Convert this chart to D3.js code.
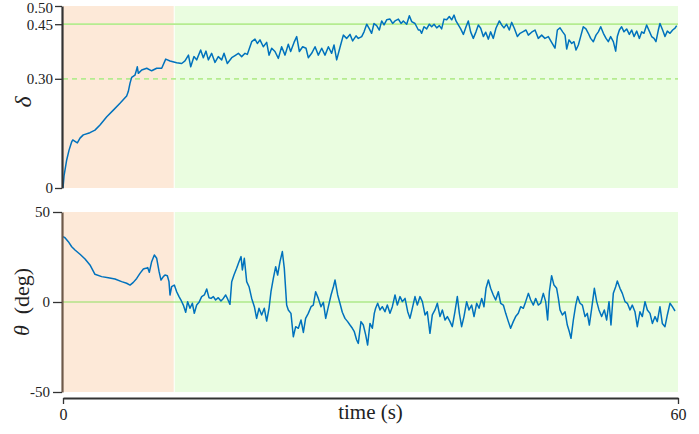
<!DOCTYPE html>
<html>
<head>
<meta charset="utf-8">
<script src="https://cdn.jsdelivr.net/npm/d3@7"></script>
<style>
  html, body { margin: 0; padding: 0; background: #fff; }
  svg { display: block; }
  svg text { font-family: 'Liberation Serif', 'Times New Roman', Times, serif !important; }
</style>
</head>
<body>
<svg id="chart" width="699" height="434"></svg>
<script>
// time axis (s)
const timeDomain = [0, 60];
const timeTicks = [0, 60];
const phaseSplit = 10.85; // end of the first (orange) phase

// top panel: delta
const deltaTicks = [0, 0.3, 0.45, 0.5];
const deltaTarget = 0.45;
const deltaThreshold = 0.3;
const deltaTime = [
  0, 0.1, 0.36, 0.59, 0.85, 0.95, 1.17, 1.4, 1.66, 1.98, 2.63, 3.12, 3.61, 4.27, 4.91,
  5.56, 6.21, 6.37, 6.54, 6.7, 7.02, 7.17, 7.25, 7.35, 7.68, 8.17, 8.65, 9.14, 9.63, 10.02,
  10.44, 11.09, 11.58, 11.9, 12.24, 12.46, 12.78, 13.04, 13.43, 13.69, 13.95, 14.18, 14.5,
  14.83, 15.15, 15.48, 15.71, 16.03, 16.46, 16.78, 17.11, 17.43, 17.76, 17.98, 18.41, 18.73,
  18.96, 19.22, 19.54, 19.87, 20.1, 20.36, 20.68, 21.01, 21.33, 21.66, 21.98, 22.21, 22.54,
  22.8, 23.06, 23.38, 23.71, 23.93, 24.26, 24.59, 24.91, 25.24, 25.56, 25.89, 26.21, 26.44,
  26.7, 27.02, 27.35, 27.67, 28.0, 28.26, 28.59, 28.81, 29.14, 29.37, 29.63, 29.89, 30.11,
  30.34, 30.6, 30.86, 31.09, 31.32, 31.58, 31.9, 32.16, 32.39, 32.72, 32.98, 33.2, 33.53,
  33.79, 34.02, 34.34, 34.67, 34.83, 34.99, 35.22, 35.48, 35.74, 35.97, 36.2, 36.46, 36.72,
  36.94, 37.17, 37.43, 37.69, 37.92, 38.15, 38.34, 38.57, 38.8, 39.06, 39.32, 39.54, 39.77,
  40.03, 40.29, 40.52, 40.75, 41.01, 41.24, 41.5, 41.72, 41.98, 42.24, 42.57, 42.8, 43.02,
  43.28, 43.54, 43.77, 44.03, 44.33, 44.59, 44.85, 45.17, 45.4, 45.72, 46.05, 46.37, 46.7,
  47.02, 47.35, 47.67, 48.0, 48.23, 48.49, 48.75, 48.98, 49.14, 49.37, 49.63, 49.85, 50.05,
  50.28, 50.5, 50.76, 51.02, 51.25, 51.48, 51.74, 52.0, 52.23, 52.46, 52.72, 52.98, 53.2,
  53.43, 53.69, 53.92, 54.08, 54.28, 54.5, 54.73, 54.99, 55.25, 55.48, 55.71, 55.97, 56.23,
  56.46, 56.68, 56.94, 57.2, 57.43, 57.66, 57.85, 58.08, 58.24, 58.5, 58.73, 58.96, 59.22,
  59.48, 59.71, 59.87
];
const deltaValues = [
  0, 0.033, 0.077, 0.104, 0.127, 0.132, 0.128, 0.124, 0.137, 0.146, 0.152, 0.159, 0.173, 0.196, 0.214,
  0.233, 0.253, 0.265, 0.288, 0.304, 0.31, 0.324, 0.333, 0.315, 0.324, 0.329, 0.322, 0.329, 0.329, 0.354,
  0.349, 0.344, 0.342, 0.349, 0.365, 0.333, 0.361, 0.352, 0.379, 0.358, 0.376, 0.352, 0.37,
  0.345, 0.361, 0.352, 0.37, 0.342, 0.358, 0.364, 0.37, 0.361, 0.37, 0.367, 0.402, 0.409,
  0.397, 0.407, 0.388, 0.4, 0.365, 0.384, 0.375, 0.356, 0.388, 0.365, 0.395, 0.375, 0.4,
  0.416, 0.375, 0.388, 0.384, 0.358, 0.37, 0.388, 0.365, 0.384, 0.365, 0.388, 0.37, 0.393,
  0.352, 0.386, 0.42, 0.411, 0.422, 0.404, 0.418, 0.411, 0.416, 0.429, 0.45, 0.437, 0.425,
  0.452, 0.446, 0.434, 0.459, 0.448, 0.462, 0.464, 0.452, 0.459, 0.464, 0.452, 0.459, 0.45,
  0.473, 0.457, 0.452, 0.434, 0.434, 0.425, 0.443, 0.437, 0.45, 0.443, 0.45, 0.44, 0.446,
  0.437, 0.464, 0.462, 0.471, 0.462, 0.475, 0.459, 0.448, 0.437, 0.422, 0.443, 0.459, 0.429,
  0.411, 0.429, 0.448, 0.439, 0.416, 0.428, 0.409, 0.429, 0.411, 0.439, 0.459, 0.448, 0.44,
  0.45, 0.434, 0.455, 0.439, 0.416, 0.425, 0.429, 0.434, 0.42, 0.428, 0.434, 0.411, 0.42,
  0.411, 0.416, 0.4, 0.384, 0.434, 0.44, 0.429, 0.42, 0.382, 0.407, 0.397, 0.402, 0.379,
  0.393, 0.416, 0.443, 0.437, 0.425, 0.411, 0.402, 0.42, 0.429, 0.443, 0.425, 0.411, 0.402,
  0.416, 0.402, 0.376, 0.416, 0.434, 0.443, 0.429, 0.437, 0.422, 0.434, 0.416, 0.431, 0.411,
  0.429, 0.425, 0.448, 0.431, 0.416, 0.411, 0.402, 0.434, 0.452, 0.434, 0.416, 0.431, 0.425,
  0.434, 0.439, 0.446
];

// bottom panel: theta (deg)
const thetaTicks = [-50, 0, 50];
const thetaTarget = 0;
const thetaTime = [
  0, 0.195, 0.52, 0.85, 1.17, 1.66, 2.15, 2.63, 3.12, 3.77, 4.42, 5.07, 5.72, 6.21, 6.54,
  6.86, 7.19, 7.51, 7.84, 8.07, 8.26, 8.42, 8.65, 8.91, 9.14, 9.37, 9.56, 9.79, 9.95, 10.18,
  10.34, 10.44, 10.6, 10.86, 11.09, 11.32, 11.51, 11.74, 11.97, 12.16, 12.39, 12.62, 12.81,
  13.04, 13.27, 13.53, 13.79, 14.02, 14.24, 14.44, 14.67, 14.89, 15.15, 15.41, 15.64, 15.87,
  16.06, 16.29, 16.46, 16.68, 16.94, 17.17, 17.37, 17.5, 17.69, 17.92, 18.15, 18.41, 18.67,
  18.89, 19.12, 19.38, 19.64, 19.87, 20.1, 20.29, 20.52, 20.75, 20.94, 21.17, 21.4, 21.59,
  21.82, 21.98, 22.24, 22.47, 22.7, 22.96, 23.22, 23.45, 23.67, 23.93, 24.2, 24.42, 24.65,
  24.91, 25.17, 25.4, 25.63, 25.89, 26.15, 26.38, 26.54, 26.8, 27.02, 27.25, 27.51, 27.77,
  28.0, 28.23, 28.42, 28.65, 28.81, 29.07, 29.3, 29.53, 29.72, 29.95, 30.18, 30.37,
  30.5, 30.7, 30.93, 31.15, 31.41, 31.64, 31.9, 32.13, 32.39, 32.62, 32.88, 33.11, 33.37,
  33.63, 33.85, 34.08, 34.34, 34.57, 34.83, 35.06, 35.32, 35.54, 35.8, 36.03, 36.29, 36.52,
  36.78, 37.01, 37.27, 37.5, 37.76, 37.98, 38.24, 38.47, 38.67, 38.89, 39.12, 39.38, 39.61,
  39.87, 40.1, 40.36, 40.59, 40.85, 41.07, 41.27, 41.5, 41.72, 41.98, 42.21, 42.47, 42.7,
  42.96, 43.19, 43.45, 43.67, 43.93, 44.16, 44.42, 44.65, 44.91, 45.14, 45.4, 45.63, 45.89,
  46.11, 46.37, 46.6, 46.86, 47.09, 47.28, 47.45, 47.67, 47.9, 48.16, 48.33, 48.49, 48.72,
  48.98, 49.2, 49.4, 49.56, 49.79, 50.02, 50.21, 50.44, 50.67, 50.93, 51.15, 51.35, 51.58,
  51.84, 52.07, 52.29, 52.55, 52.81, 53.04, 53.27, 53.46, 53.69, 53.92, 54.08, 54.34, 54.57,
  54.83, 55.06, 55.32, 55.54, 55.8, 56.03, 56.29, 56.52, 56.78, 57.01, 57.27, 57.5, 57.76,
  57.98, 58.24, 58.47, 58.73, 58.96, 59.22, 59.45, 59.71
];
const thetaValues = [
  36.3, 35.7, 33.5, 30.7, 28.9, 26.5, 23.9, 20.6, 15.4, 14.1, 13.5, 12.8, 11.3, 10.4, 9.4,
  10.9, 13.1, 15.9, 18.3, 18.7, 19.1, 16.5, 22.4, 26.1, 24.3, 17.0, 12.2, 14.1, 15.0, 14.6,
  11.3, 3.9, 8.5, 9.4, 5.7, 3.0, 1.1, -1.7, -5.7, 0.2, -3.5, -0.7, -6.3,
  -1.7, -0.2, 3.0, 3.9, 7.2, 2.4, 2.0, 3.0, 1.1, 2.4, 0.6, 2.0, 3.9,
  1.7, -1.3, 11.3, 15.0, 18.7, 22.4, 25.2, 17.8, 24.3, 11.3, 8.5, 2.0, -2.6,
  -9.1, -3.5, -7.2, -3.5, -10.6, -3.5, 5.7, 13.1, 19.6, 15.0, 22.4, 28.0, 18.7,
  -1.7, -4.4, -6.3, -19.3, -13.7, -14.6, -10.0, -16.9, -9.1, -6.3, -2.6, -1.7, 5.7,
  2.0, -2.6, -0.2, -9.1, -2.6, 3.9, 8.5, 12.2, 3.9, -0.7, -5.7, -9.1, -10.9,
  -12.8, -14.6, -16.5, -21.1, -23.0, -10.9, -12.8, -18.3, -23.9, -11.9, -14.6, -6.3,
  -3.5, -0.7, -4.4, -2.6, -5.4, -1.7, -6.3, -2.6, 3.9, -1.7, 3.0, 0.2, 2.0,
  -5.4, -9.1, -3.5, 3.0, -1.7, 3.0, 0.2, -7.2, -5.4, -17.4, -7.2, -4.4, -0.7,
  -8.1, -4.4, -10.0, -8.1, -10.9, -13.7, -5.4, 3.0, -6.3, -13.7, -8.1, 0.2, -4.4,
  -1.7, -8.1, -0.7, -3.5, 2.0, -2.6, 7.6, 12.2, 7.6, 3.9, 1.1, 5.7, -0.7,
  -1.7, -6.3, -10.9, -14.6, -10.9, -8.1, -6.3, -2.6, -3.5, 0.2, 4.8, 1.1, -1.7,
  2.0, -1.7, -0.7, 4.8, 0.2, -10.0, 5.7, 14.6, 9.4, 7.6, 2.0, -4.4, -7.2,
  -5.4, -12.8, -16.5, -20.2, -10.0, -1.7, 3.0, -0.7, -1.7, -8.1, -6.3, -12.8, -3.5,
  7.6, 0.2, -4.4, -8.1, -4.4, -10.0, 0.2, -12.8, 4.8, 8.5, 11.7, 7.6, 4.8,
  0.2, -0.7, -4.4, -1.7, -5.4, -13.7, -5.4, -8.1, 0.2, -4.4, -6.3, -11.9, -8.1,
  -10.9, -2.6, -11.9, -13.7, -7.2, -0.7, -2.6, -5.0
];

const colors = {
  phase1: "#fde9d8",
  phase2: "#eafde0",
  target: "#b5ec90",
  zero: "#8fe060",
  line: "#0072bd",
  axis: "#333333",
  axisBottom: "#6e5a4a",
  text: "#222222"
};

const svg = d3.select("#chart");

// shared x scale
const x = d3.scaleLinear().domain(timeDomain).range([63, 678]);

// panel scales
const yDelta = d3.scaleLinear().domain([0, 0.5]).range([188, 6]);
const yTheta = d3.scaleLinear().domain([-50, 50]).range([392, 212]);

function drawBands(top, bottom) {
  svg.append("rect")
    .attr("x", x(0))
    .attr("y", top)
    .attr("width", x(phaseSplit) - x(0) - 0.5)
    .attr("height", bottom - top)
    .attr("fill", colors.phase1);
  svg.append("rect")
    .attr("x", x(phaseSplit) + 0.5)
    .attr("y", top)
    .attr("width", x(60) - x(phaseSplit) - 0.5)
    .attr("height", bottom - top)
    .attr("fill", colors.phase2);
}

drawBands(yDelta(0.5), yDelta(0));
drawBands(yTheta(50), yTheta(-50));

// reference lines
svg.append("line")
  .attr("x1", x(0)).attr("x2", x(60))
  .attr("y1", yDelta(deltaTarget)).attr("y2", yDelta(deltaTarget))
  .attr("stroke", colors.target).attr("stroke-width", 1.8);
svg.append("line")
  .attr("x1", x(0)).attr("x2", x(60))
  .attr("y1", yDelta(deltaThreshold)).attr("y2", yDelta(deltaThreshold))
  .attr("stroke", colors.target).attr("stroke-width", 1.8)
  .attr("stroke-dasharray", "5,4");
svg.append("line")
  .attr("x1", x(0)).attr("x2", x(60))
  .attr("y1", yTheta(thetaTarget)).attr("y2", yTheta(thetaTarget))
  .attr("stroke", colors.zero).attr("stroke-width", 1.2);

// series
const deltaPoints = deltaTime.map((t, i) => [t, deltaValues[i]]);
const thetaPoints = thetaTime.map((t, i) => [t, thetaValues[i]]);

svg.append("path")
  .datum(deltaPoints)
  .attr("fill", "none")
  .attr("stroke", colors.line)
  .attr("stroke-width", 1.5)
  .attr("stroke-linejoin", "round")
  .attr("d", d3.line().x((d) => x(d[0])).y((d) => yDelta(d[1])));

svg.append("path")
  .datum(thetaPoints)
  .attr("fill", "none")
  .attr("stroke", colors.line)
  .attr("stroke-width", 1.5)
  .attr("stroke-linejoin", "round")
  .attr("d", d3.line().x((d) => x(d[0])).y((d) => yTheta(d[1])));

// y axes
const deltaAxis = svg.append("g")
  .attr("transform", "translate(62,0)")
  .call(d3.axisLeft(yDelta).tickValues(deltaTicks).tickSize(7).tickSizeOuter(0)
    .tickFormat((d) => (d === 0 ? "0" : d3.format(".2f")(d))));
deltaAxis.select(".domain").attr("stroke", colors.axis).attr("stroke-width", 2.2);
deltaAxis.selectAll(".tick line").attr("stroke", colors.axis).attr("stroke-width", 1.3);
deltaAxis.selectAll(".tick text")
  .attr("x", -9)
  .attr("fill", colors.text)
  .style("font-size", "15px");
// keep the topmost label inside the picture
deltaAxis.selectAll(".tick text").filter((d) => d === 0.5).attr("dy", "0.42em");

const thetaAxis = svg.append("g")
  .attr("transform", "translate(62,0)")
  .call(d3.axisLeft(yTheta).tickValues(thetaTicks).tickSize(9).tickSizeOuter(0)
    .tickFormat((d) => String(d)));
thetaAxis.select(".domain").attr("stroke", colors.axisBottom).attr("stroke-width", 2.2);
thetaAxis.selectAll(".tick line").attr("stroke", colors.axis).attr("stroke-width", 1.3);
thetaAxis.selectAll(".tick text")
  .attr("x", -12)
  .attr("fill", colors.text)
  .style("font-size", "15px");

// x axis
const timeAxis = svg.append("g")
  .attr("transform", "translate(0,398)")
  .call(d3.axisBottom(x).tickValues(timeTicks).tickSize(6).tickSizeOuter(0));
timeAxis.select(".domain").attr("stroke", colors.axis).attr("stroke-width", 2);
timeAxis.selectAll(".tick line").attr("stroke", colors.axis).attr("stroke-width", 1.3);
timeAxis.selectAll(".tick text")
  .attr("y", 11)
  .attr("fill", colors.text)
  .style("font-size", "16px");

// axis titles
svg.append("text")
  .attr("x", x(30))
  .attr("y", 419)
  .attr("text-anchor", "middle")
  .attr("fill", colors.text)
  .style("font-size", "21px")
  .text("time (s)");

svg.append("text")
  .attr("transform", "translate(31,102) rotate(-90)")
  .attr("text-anchor", "middle")
  .attr("fill", colors.text)
  .style("font-size", "24px")
  .style("font-style", "italic")
  .text("δ");

const thetaTitle = svg.append("text")
  .attr("transform", "translate(29,302) rotate(-90)")
  .attr("text-anchor", "middle")
  .attr("fill", colors.text)
  .style("font-size", "22px");
thetaTitle.append("tspan").style("font-style", "italic").text("θ");
thetaTitle.append("tspan").text("\u00a0\u00a0(deg)");
</script>
</body>
</html>
